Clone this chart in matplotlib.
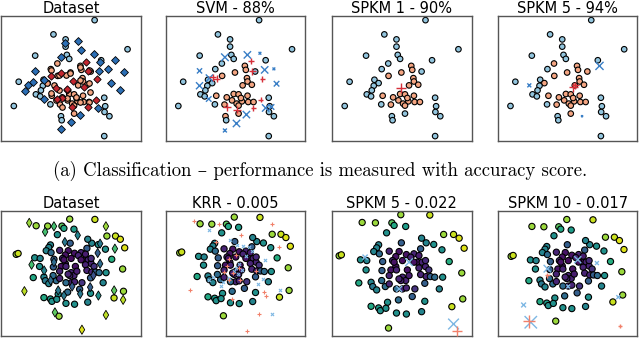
import matplotlib
matplotlib.use("Agg")
import matplotlib.pyplot as plt
import numpy as np

# ---- classification data (top row), shared positions ----
clf_x = [66.9, 37.4, 46.1, 46.1, 90.5, 24.3, 47.0, 48.7, 71.6, 40.2,
         35.5, 64.1, 12.5, 30.3, 33.3, 29.8, 28.4, 24.8, 27.9, 35.2,
         9.0, 73.8, 74.5, 74.0, 77.5, 42.8, 43.3, 52.2, 73.8,
         49.6, 56.7, 57.4, 40.4, 58.2, 58.6, 55.1, 61.7, 36.2, 43.7,
         48.7, 52.2, 58.6, 54.6, 47.5, 50.8, 52.2, 59.1, 62.9, 42.1, 53.9]
clf_y = [96.8, 85.4, 81.4, 75.6, 73.5, 68.4, 69.0, 65.8, 64.7, 62.1,
         57.6, 55.7, 47.5, 49.1, 46.4, 44.3, 40.6, 37.4, 35.8, 29.4,
         28.1, 34.7, 27.9, 23.3, 19.9, 19.9, 16.7, 22.0, 4.0,
         54.9, 60.2, 57.0, 52.2, 50.4, 47.7, 44.6, 45.1, 36.3, 35.0,
         37.7, 37.4, 36.3, 31.8, 32.6, 30.0, 28.4, 31.3, 31.3, 29.2, 34.5]

lab_data = [0, 0, 0, 0, 0, 0, 0, 0, 0, 1, 1, 1, 0, 0, 1, 0, 0, 0, 0, 0,
            0, 0, 0, 0, 0, 0, 0, 1, 0,
            1, 1, 1, 1, 1, 1, 1, 1, 1, 1, 1, 1, 1, 1, 1, 1, 1, 1, 1, 1, 1]
lab_svm = [0, 0, 0, 0, 0, 0, 0, 0, 0, 0, 0, 0, 0, 0, 0, 0, 0, 0, 0, 0,
           0, 0, 0, 0, 0, 1, 0, 1, 0,
           1, 1, 1, 1, 1, 1, 1, 1, 1, 1, 1, 1, 1, 1, 1, 1, 1, 1, 1, 1, 1]
lab_spkm1 = [0, 0, 0, 0, 0, 0, 0, 0, 0, 0, 0, 0, 0, 0, 0, 0, 0, 0, 0, 0,
             0, 0, 0, 0, 0, 0, 0, 0, 0,
             1, 1, 1, 1, 1, 1, 1, 1, 1, 1, 1, 1, 1, 1, 1, 1, 1, 1, 1, 1, 1]
lab_spkm5 = [0, 0, 0, 0, 0, 0, 0, 0, 0, 1, 0, 1, 0, 0, 1, 0, 0, 0, 0, 0,
             0, 0, 0, 0, 0, 0, 0, 1, 0,
             1, 1, 1, 1, 1, 1, 1, 1, 1, 1, 1, 1, 1, 1, 1, 1, 1, 1, 1, 1, 1]

# extra light class-1 circles only visible in the dataset panel
extra_salmon_x = [35.5, 41.4, 33.1, 46.1, 49.6, 56.7, 62.6, 56.3, 62.6, 37.8,
                  41.4, 35.5, 39.0, 47.3, 53.2, 56.7, 62.6, 43.7, 63.8]
extra_salmon_y = [56.8, 52.8, 46.1, 52.8, 54.7, 59.5, 56.8, 48.8, 46.1, 44.8,
                  40.8, 38.1, 32.8, 34.1, 35.5, 31.5, 31.5, 27.5, 39.5]

# test points shown as diamonds in the dataset panel
test_blue_x = [54.7, 57.3, 66.7, 42.5, 70.8, 81.4, 24.3, 76.2, 70.0, 88.0,
               30.7, 22.4, 18.9, 17.0, 78.5, 85.4, 30.9, 69.6, 56.6, 50.0, 42.5, 45.5]
test_blue_y = [79.8, 72.9, 69.5, 67.1, 63.7, 65.0, 55.7, 57.8, 56.2, 55.2,
               49.1, 47.2, 44.6, 39.8, 46.4, 41.1, 33.7, 26.5, 21.2, 15.1, 9.8, 78.8]
test_red_x = [60.8, 62.5, 68.4, 51.4, 35.4, 38.9, 43.2, 50.7, 61.8, 67.9, 47.2, 59.0,
              42.6, 46.8, 40.2]
test_red_y = [63.7, 55.7, 49.6, 47.7, 52.3, 42.4, 34.5, 27.3, 27.3, 33.2, 41.1, 43.2,
              54.1, 41.7, 33.6]

# prototypes (x = class 0, + = class 1) with weights
svm_x0 = [58.5, 42.4, 67.5, 24.2, 70.9, 77.5, 31.3, 24.2, 79.4, 30.8, 71.6, 75.8, 57.8, 50.7, 42.4]
svm_y0 = [69.0, 67.1, 70.3, 56.2, 57.0, 57.8, 50.4, 44.3, 45.9, 33.7, 26.5, 27.3, 21.2, 14.1, 8.5]
svm_w0 = [28, 30, 4, 14, 28, 4, 28, 26, 16, 16, 28, 16, 28, 28, 8]
svm_x1 = [60.9, 62.1, 69.2, 33.6, 36.5, 68.0, 62.8, 43.8, 51.0]
svm_y1 = [64.2, 55.7, 49.9, 50.9, 49.9, 33.2, 26.5, 27.3, 25.2]
svm_w1 = [16, 28, 16, 28, 28, 16, 16, 28, 28]

spkm1_x0, spkm1_y0, spkm1_w0 = [], [], []
spkm1_x1, spkm1_y1, spkm1_w1 = [49.2], [42.4], [60]
spkm5_x0 = [72.8, 22.5, 60.3]
spkm5_y0 = [60.2, 44.6, 19.9]
spkm5_w0 = [34, 8, 2]
spkm5_x1 = [53.9, 55.5]
spkm5_y1 = [43.2, 44.5]
spkm5_w1 = [40, 30]

# ---- regression data (bottom row) ----
reg_x = [49.2, 70.0, 21.5, 31.0, 42.8, 44.4, 52.7, 39.0, 79.9, 87.0,
         91.0, 94.6, 5.0, 6.6, 92.9, 93.6, 85.8, 40.4, 83.9, 78.7,
         72.8, 67.4, 64.1, 49.6, 33.3, 31.9, 29.8, 33.8, 20.3, 24.8,
         24.3, 19.1, 27.9, 29.1, 31.9, 38.1, 35.5, 36.2, 35.7, 40.9,
         48.0, 45.6, 43.3, 45.6, 42.1, 46.1, 40.9, 53.2, 58.6, 61.0,
         64.5, 66.9, 62.2, 69.3, 63.4, 67.4, 70.4, 73.5, 79.2, 63.4,
         53.9, 50.4, 52.7, 49.2, 50.4, 46.1, 40.9, 53.2, 59.3, 66.4,
         57.4, 47.5, 76.8, 66.4, 39.7, 27.9, 33.3, 34.5, 38.5, 46.1,
         53.2, 64.1, 56.3, 44.4, 47.9, 55.1, 58.6, 62.2, 66.9, 50.4]
reg_y = [97.1, 96.8, 90.9, 90.6, 90.6, 88.5, 87.7, 82.6, 81.3, 81.3,
         78.3, 70.3, 64.2, 65.0, 50.5, 29.7, 23.5, 6.4, 59.6, 69.0,
         73.3, 74.6, 78.3, 74.6, 73.0, 70.6, 67.6, 65.8, 61.0, 60.4,
         52.9, 42.5, 43.0, 39.6, 36.9, 39.6, 44.4, 59.6, 52.4, 67.9,
         67.6, 63.6, 60.4, 55.6, 52.9, 52.9, 48.4, 65.2, 65.8, 59.1,
         59.1, 55.6, 54.5, 52.9, 49.2, 47.6, 47.6, 47.1, 47.1, 69.8,
         52.9, 47.1, 44.4, 44.4, 37.7, 37.7, 41.7, 38.5, 37.7, 42.2,
         31.6, 28.9, 37.7, 27.8, 27.0, 23.8, 22.5, 20.3, 22.2, 18.4,
         17.6, 19.5, 63.1, 59.1, 45.7, 48.4, 59.1, 64.4, 60.4, 60.4]
reg_c = [0.85, 0.92, 0.85, 0.85, 0.75, 0.6, 0.55, 0.5, 0.85, 0.92,
         0.95, 0.95, 0.85, 0.92, 0.85, 0.85, 0.92, 0.85, 0.62, 0.5,
         0.5, 0.45, 0.45, 0.3, 0.45, 0.45, 0.45, 0.35, 0.5, 0.45,
         0.5, 0.6, 0.45, 0.4, 0.45, 0.35, 0.35, 0.3, 0.3, 0.1,
         0.05, 0.05, 0.1, 0.05, 0.05, 0.1, 0.1, 0.05, 0.1, 0.05,
         0.1, 0.1, 0.1, 0.15, 0.1, 0.1, 0.3, 0.35, 0.5, 0.3,
         0.05, 0.1, 0.1, 0.1, 0.1, 0.35, 0.1, 0.1, 0.15, 0.3,
         0.3, 0.35, 0.45, 0.5, 0.5, 0.6, 0.55, 0.5, 0.5, 0.5,
         0.5, 0.45, 0.1, 0.05, 0.1, 0.08, 0.05, 0.08, 0.12, 0.03]

reg_test_x = [15.8, 28.9, 36.2, 79.1, 86.5, 17.7, 11.8, 85.9, 93.3, 72.9,
              79.1, 59.3, 37.0, 45.2, 55.8, 74.3, 72.3, 36.2, 74.3, 68.8,
              33.5, 51.2, 44.4, 57.9, 66.1, 39.7, 28.1]
reg_test_y = [93.6, 85.2, 90.4, 90.4, 69.5, 54.5, 29.8, 30.5, 21.7, 25.7,
              7.6, -6.2, 10.0, 75.7, 82.0, 74.2, 65.5, 56.9, 55.4, 44.5,
              39.8, 34.2, 25.7, 27.3, 33.5, 30.5, 49.1]
reg_test_c = [0.85, 0.7, 0.7, 0.85, 0.7, 0.7, 0.9, 0.75, 0.9, 0.5,
              0.9, 0.95, 0.75, 0.4, 0.45, 0.4, 0.3, 0.35, 0.35, 0.25,
              0.35, 0.3, 0.4, 0.4, 0.3, 0.4, 0.45]

krr_x0 = [29.0, 45.9, 51.8, 56.6, 63.8, 59.0, 53.1, 50.4, 55.3, 52.5, 31.6,
          28.5, 38.4, 39.8, 72.7, 74.0, 86.6, 79.9, 68.7, 49.1, 45.1, 61.1]
krr_y0 = [85.1, 75.9, 71.3, 70.6, 65.7, 61.1, 54.3, 50.6, 48.1, 45.1, 42.0,
          38.9, 33.4, 37.4, 40.4, 57.4, 29.7, 8.2, 35.8, 47.5, 41.3, 69.7]
krr_x1 = [16.4, 37.1, 55.0, 79.9, 34.4, 45.1, 43.7, 48.2, 53.1, 66.6, 45.1,
          47.0, 74.6, 13.0, 69.2, 85.2, 59.8, 73.2, 53.7, 41.0, 50.4]
krr_y1 = [93.4, 90.4, 80.5, 90.4, 74.3, 58.9, 51.9, 45.7, 50.6, 47.5, 38.9,
          22.0, 25.0, 29.7, 8.2, 69.7, -7.2, 28.1, 38.9, 46.6, 62.0]

rs5_x0 = [23.6, 55.1, 48.0, 87.0]
rs5_y0 = [63.1, 59.1, 37.7, 9.6]
rs5_w0 = [14, 30, 18, 60]
rs5_x1 = [89.4]
rs5_y1 = [3.7]
rs5_w1 = [60]

rs10_x0 = [33.8, 57.9, 73.1, 50.3, 14.9, 90.1, 20.6]
rs10_y0 = [53.2, 61.2, 58.2, 37.3, 20.8, 27.8, 5.4]
rs10_w0 = [30, 26, 8, 8, 12, 8, 80]
rs10_x1 = [33.8, 19.4, 91.5]
rs10_y1 = [47.2, 6.2, 1.8]
rs10_w1 = [10, 80, 8]

clf_titles = ["Dataset", "SVM - 88%", "SPKM 1 - 90%", "SPKM 5 - 94%"]
reg_titles = ["Dataset", "KRR - 0.005", "SPKM 5 - 0.022", "SPKM 10 - 0.017"]
caption = "(a) Classification – performance is measured with accuracy score."

LIGHT_BLUE = "#92c5de"
SALMON = "#f4a582"
DARK_BLUE = "#2c6fb5"
DARK_RED = "#c3262f"
X_BLUE = "#3a7fc6"
P_RED = "#d6303a"
R_BLUE = "#7db7e3"
R_SALMON = "#f1806a"

fig = plt.figure(figsize=(6.4, 3.59), dpi=100)
lefts = [0.002, 0.259, 0.519, 0.778]
W = 0.218


def make_ax(left, bottom, title):
    ax = fig.add_axes([left, bottom, W, 0.348])
    ax.set_xticks([])
    ax.set_yticks([])
    for s in ax.spines.values():
        s.set_color("#555555")
        s.set_linewidth(1.0)
    ax.set_title(title, fontsize=10.5, pad=1.5)
    return ax


def clf_points(ax, labels):
    cols = [SALMON if l else LIGHT_BLUE for l in labels]
    ax.scatter(clf_x, clf_y, c=cols, s=16, edgecolors="black", linewidths=0.8, zorder=2)


def protos(ax, x0, y0, w0, x1, y1, w1, c0, c1):
    if x0:
        ax.scatter(x0, y0, s=w0, marker="x", c=c0, linewidths=1.0, zorder=3)
    if x1:
        ax.scatter(x1, y1, s=w1, marker="+", c=c1, linewidths=1.0, zorder=3)


# top row
axs = [make_ax(l, 0.607, t) for l, t in zip(lefts, clf_titles)]
for ax in axs:
    ax.set_xlim(0, 100)
    ax.set_ylim(0, 100)

clf_points(axs[0], lab_data)
axs[0].scatter(extra_salmon_x, extra_salmon_y, c=SALMON, s=16,
               edgecolors="black", linewidths=0.8, zorder=2)
axs[0].scatter(test_blue_x, test_blue_y, c=DARK_BLUE, marker="D", s=16,
               edgecolors="black", linewidths=0.6, zorder=3)
axs[0].scatter(test_red_x, test_red_y, c=DARK_RED, marker="D", s=14,
               edgecolors="black", linewidths=0.6, zorder=3)

clf_points(axs[1], lab_svm)
protos(axs[1], svm_x0, svm_y0, svm_w0, svm_x1, svm_y1, svm_w1, X_BLUE, P_RED)
clf_points(axs[2], lab_spkm1)
protos(axs[2], spkm1_x0, spkm1_y0, spkm1_w0, spkm1_x1, spkm1_y1, spkm1_w1, X_BLUE, P_RED)
clf_points(axs[3], lab_spkm5)
protos(axs[3], spkm5_x0, spkm5_y0, spkm5_w0, spkm5_x1, spkm5_y1, spkm5_w1, X_BLUE, P_RED)

fig.text(0.5, 0.524, caption, ha="center", va="center", fontsize=13.5,
         family=["cmr10", "DejaVu Serif"])

# bottom row
reg_lims = [((-7.3, 107.9), (-12.1, 104.6)),
            ((-6.3, 106.7), (-12.2, 102.6)),
            ((0, 100), (0, 100)),
            ((-5.5, 105.3), (-6.9, 104.6))]
bxs = [make_ax(l, 0.064, t) for l, t in zip(lefts, reg_titles)]
for ax, (xl, yl) in zip(bxs, reg_lims):
    ax.set_xlim(*xl)
    ax.set_ylim(*yl)
    ax.scatter(reg_x, reg_y, c=reg_c, cmap="viridis", vmin=0, vmax=1, s=20,
               edgecolors="black", linewidths=0.8, zorder=2)

bxs[0].scatter(reg_test_x, reg_test_y, c=reg_test_c, cmap="viridis", vmin=0, vmax=1,
               marker="d", s=22, edgecolors="black", linewidths=0.6, zorder=3)
bxs[1].scatter(krr_x0, krr_y0, s=5, marker="x", c=R_BLUE, linewidths=0.8, zorder=3)
bxs[1].scatter(krr_x1, krr_y1, s=5, marker="+", c=R_SALMON, linewidths=0.8, zorder=3)
protos(bxs[2], rs5_x0, rs5_y0, rs5_w0, rs5_x1, rs5_y1, rs5_w1, R_BLUE, R_SALMON)
protos(bxs[3], rs10_x0, rs10_y0, rs10_w0, rs10_x1, rs10_y1, rs10_w1, R_BLUE, R_SALMON)

fig.savefig("out.png", dpi=100)
